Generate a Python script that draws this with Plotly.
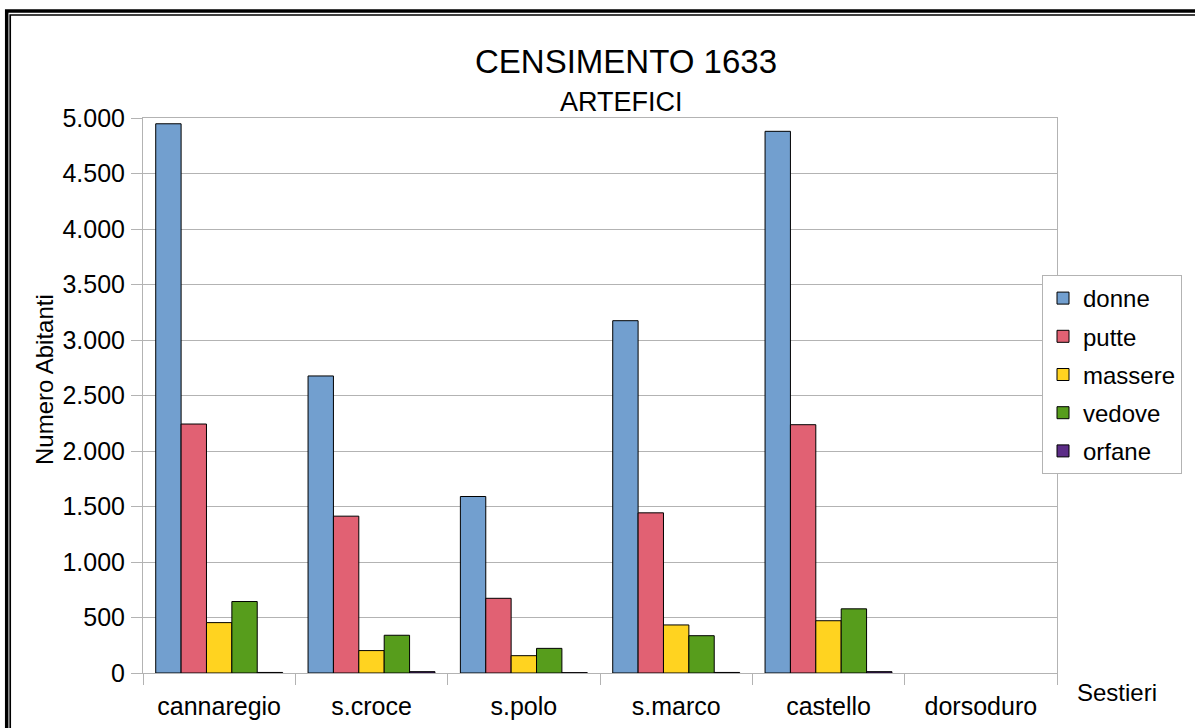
import plotly.graph_objects as go

sestieri = ["cannaregio", "s.croce", "s.polo", "s.marco", "castello", "dorsoduro"]
donne = [4948, 2676, 1590, 3174, 4880, None]
putte = [2243, 1413, 673, 1443, 2237, None]
massere = [454, 202, 156, 433, 471, None]
vedove = [644, 340, 222, 336, 578, None]
orfane = [5, 12, 3, 5, 12, None]

series = [
    ("donne", donne, "#729fcf"),
    ("putte", putte, "#e16173"),
    ("massere", massere, "#ffd320"),
    ("vedove", vedove, "#579d1c"),
    ("orfane", orfane, "#5c2d87"),
]

W, H = 1195, 728
ML, MR, MT, MB = 143, 138, 118, 55
PW, PH = W - ML - MR, H - MT - MB

def px(x):
    return (x - ML) / PW

def py(y):
    return (H - MB - y) / PH

FONT = "Liberation Sans, Arial, sans-serif"

fig = go.Figure()
for i, (name, vals, col) in enumerate(series):
    fig.add_trace(go.Bar(
        x=sestieri, y=vals, name=name,
        marker=dict(color=col, line=dict(color="#000000", width=1)),
        legendgroup=name,
    ))

grid = "#b3b3b3"
fig.update_layout(
    width=W, height=H,
    margin=dict(l=ML, r=MR, t=MT, b=MB, pad=0, autoexpand=False),
    paper_bgcolor="white", plot_bgcolor="white",
    barmode="group", bargap=0.167, bargroupgap=0,
    font=dict(family=FONT, size=25, color="black"),
    showlegend=True,
    legend=dict(
        x=px(1042), y=py(275), xanchor="left", yanchor="top",
        bgcolor="white", bordercolor=grid, borderwidth=1,
        font=dict(size=24), tracegroupgap=4,
        itemwidth=30,
    ),
    xaxis=dict(
        automargin=False,
        showline=True, linecolor=grid, linewidth=1, mirror=True,
        ticks="outside", tickson="boundaries", ticklen=11, tickcolor=grid,
        showgrid=False, tickfont=dict(size=25), ticklabelstandoff=11,
    ),
    yaxis=dict(
        automargin=False,
        range=[0, 5000], tickvals=[0, 500, 1000, 1500, 2000, 2500, 3000, 3500, 4000, 4500, 5000],
        ticktext=["0", "500", "1.000", "1.500", "2.000", "2.500", "3.000", "3.500", "4.000", "4.500", "5.000"],
        showline=True, linecolor=grid, linewidth=1, mirror=True,
        ticks="outside", ticklen=11, tickcolor=grid,
        showgrid=True, gridcolor=grid, gridwidth=1, zeroline=False,
        tickfont=dict(size=25), ticklabelstandoff=1,
    ),
)

fig.add_annotation(text="CENSIMENTO 1633", x=px(626), y=py(62), xref="paper", yref="paper",
                   showarrow=False, font=dict(size=33), xanchor="center", yanchor="middle")
fig.add_annotation(text="ARTEFICI", x=px(621), y=py(102), xref="paper", yref="paper",
                   showarrow=False, font=dict(size=27), xanchor="center", yanchor="middle")
fig.add_annotation(text="Numero Abitanti", x=px(44), y=py(380), xref="paper", yref="paper",
                   showarrow=False, font=dict(size=24), textangle=-90,
                   xanchor="center", yanchor="middle")
fig.add_annotation(text="Sestieri", x=px(1075), y=py(692), xref="paper", yref="paper",
                   showarrow=False, font=dict(size=24), xanchor="left", yanchor="middle")

# outer frame (double line)
fig.add_shape(type="rect", xref="paper", yref="paper",
              x0=px(6.7), y0=py(11), x1=px(1210), y1=py(745),
              line=dict(color="black", width=3.5), fillcolor="rgba(0,0,0,0)", layer="above")
fig.add_shape(type="rect", xref="paper", yref="paper",
              x0=px(10.2), y0=py(15), x1=px(1205), y1=py(740),
              line=dict(color="black", width=1.7), fillcolor="rgba(0,0,0,0)", layer="above")

fig.write_html("out.html")
